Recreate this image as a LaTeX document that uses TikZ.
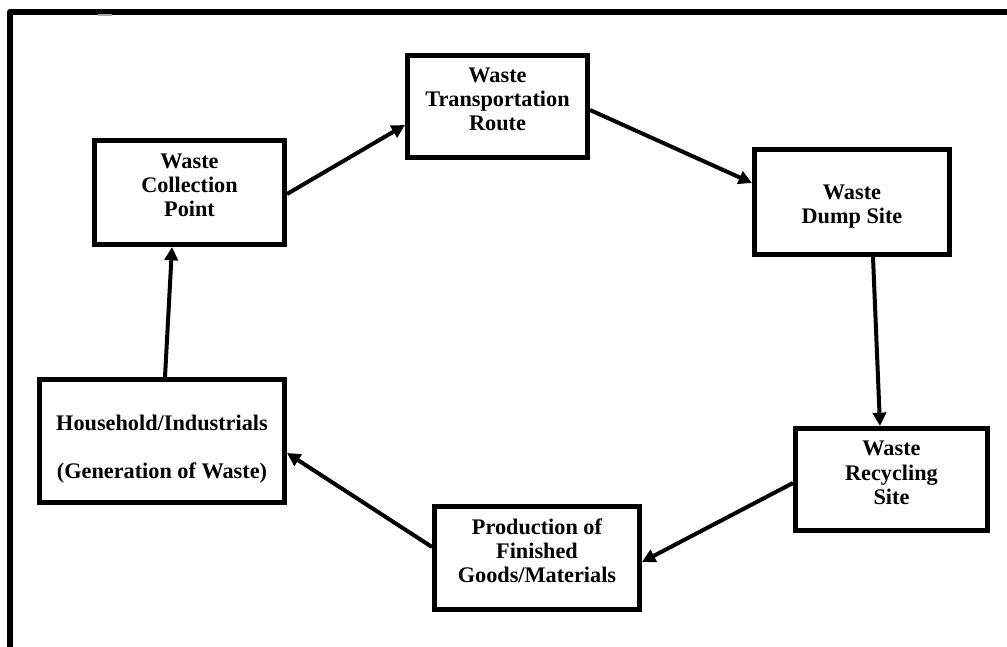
\documentclass[tikz,border=0pt]{standalone}
\usepackage{fontspec}
\setmainfont{Liberation Serif}
\usetikzlibrary{arrows.meta}
\tikzset{
  every picture/.style={line join=round},
  stage/.style={draw, line width=0.14cm, inner sep=0pt, line join=miter},
  stagetext/.style={font=\fontsize{19}{20.5}\selectfont\bfseries, align=center, inner sep=0pt},
  flow/.style={-{Triangle[length=0.40cm,width=0.40cm]}, line width=0.12cm},
}

\begin{document}
\begin{tikzpicture}
\useasboundingbox (0,0) rectangle (30.21,19.41);
\draw[line width=0.18cm] (0.300,0) -- (0.300,19.050) -- (30.400,19.050);
\draw[gray!70, line width=0.06cm] (2.940,18.945) -- (3.360,18.945);
\node[stage, minimum width=5.71cm, minimum height=3.13cm] (collect) at (5.685,13.635) {};
\node[stage, minimum width=5.41cm, minimum height=3.07cm] (transport) at (14.925,16.215) {};
\node[stage, minimum width=5.86cm, minimum height=3.16cm] (dump) at (25.560,13.350) {};
\node[stage, minimum width=5.77cm, minimum height=3.07cm] (recycle) at (26.745,5.025) {};
\node[stage, minimum width=6.16cm, minimum height=3.10cm] (produce) at (16.110,2.670) {};
\node[stage, minimum width=7.36cm, minimum height=3.70cm] (household) at (4.860,6.180) {};
\node[stagetext] (collect-t) at ([yshift=0.22cm]collect.center) {Waste\\Collection\\Point};
\node[stagetext] (transport-t) at ([yshift=0.22cm]transport.center) {Waste\\Transportation\\Route};
\node[stagetext] (dump-t) at ([yshift=-0.14cm]dump.center) {Waste\\Dump Site};
\node[stagetext] (recycle-t) at ([yshift=0.20cm]recycle.center) {Waste\\Recycling\\Site};
\node[stagetext] (produce-t) at ([yshift=0.21cm]produce.center) {Production of\\Finished\\Goods/Materials};
\node[stagetext] (household-t) at ([yshift=-0.245cm]household.center) {Household/Industrials\\[21pt](Generation of Waste)};
\draw[flow] ([xshift=0.09cm]household.north) -- ([xshift=-0.525cm]collect.south);
\draw[flow] ([yshift=-0.045cm]collect.east) -- ([yshift=-0.555cm]transport.west);
\draw[flow] ([yshift=-0.105cm]transport.east) -- ([yshift=0.57cm]dump.west);
\draw[flow] ([xshift=0.63cm]dump.south) -- ([xshift=-0.345cm]recycle.north);
\draw[flow] ([yshift=-0.105cm]recycle.west) -- ([yshift=-0.12cm]produce.east);
\draw[flow] ([yshift=0.33cm]produce.west) -- ([yshift=-0.36cm]household.east);
\end{tikzpicture}
\end{document}
